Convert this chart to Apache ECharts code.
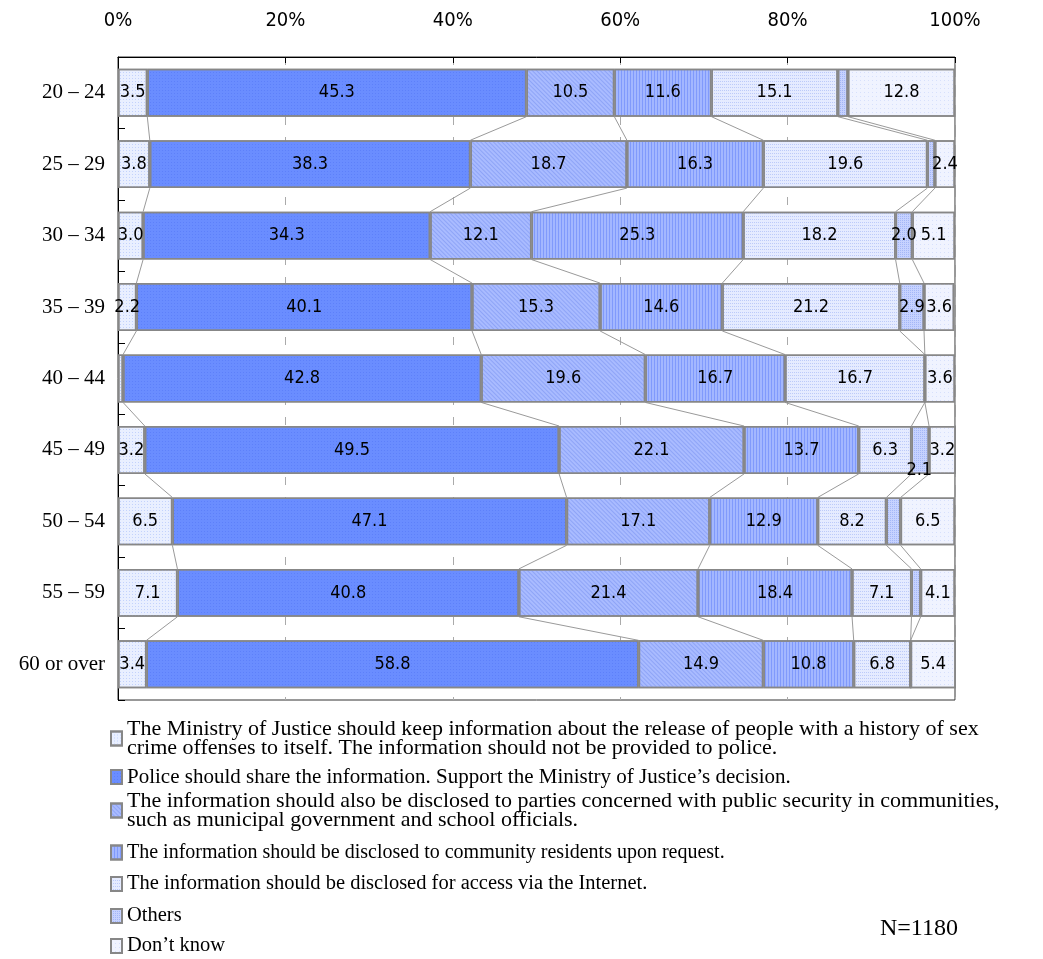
<!DOCTYPE html>
<html>
<head>
<meta charset="utf-8">
<script src="https://cdn.jsdelivr.net/npm/echarts@6/dist/echarts.min.js"></script>
<style>html,body{margin:0;padding:0;background:#fff}#c{width:1043px;height:959px}</style>
</head>
<body>
<div id="c"></div>
<script>
const categories = ['20 – 24','25 – 29','30 – 34','35 – 39','40 – 44','45 – 49','50 – 54','55 – 59','60 or over'];
const xTicks = [0, 20, 40, 60, 80, 100];
const seriesNames = [
  'The Ministry of Justice should keep information about the release of people with a history of sex\ncrime offenses to itself. The information should not be provided to police.',
  'Police should share the information. Support the Ministry of Justice\u2019s decision.',
  'The information should also be disclosed to parties concerned with public security in communities,\nsuch as municipal government and school officials.',
  'The information should be disclosed to community residents upon request.',
  'The information should be disclosed for access via the Internet.',
  'Others',
  'Don\u2019t know'
];
const keepToItself = [3.5, 3.8, 3.0, 2.2, 0.6, 3.2, 6.5, 7.1, 3.4];
const policeShare  = [45.3, 38.3, 34.3, 40.1, 42.8, 49.5, 47.1, 40.8, 58.8];
const partiesDisclose = [10.5, 18.7, 12.1, 15.3, 19.6, 22.1, 17.1, 21.4, 14.9];
const residentsRequest = [11.6, 16.3, 25.3, 14.6, 16.7, 13.7, 12.9, 18.4, 10.8];
const internetAccess = [15.1, 19.6, 18.2, 21.2, 16.7, 6.3, 8.2, 7.1, 6.8];
const others = [1.2, 0.9, 2.0, 2.9, 0.0, 2.1, 1.7, 1.1, 0.0];
const dontKnow = [12.8, 2.4, 5.1, 3.6, 3.6, 3.2, 6.5, 4.1, 5.4];
const nLabel = 'N=1180';

const allSeries = [keepToItself, policeShare, partiesDisclose, residentsRequest, internetAccess, others, dontKnow];
const BAR_RATIO = 0.67;
const labelFont = "'DejaVu Sans Condensed','Liberation Sans',Arial,sans-serif";
const serifFont = "'Liberation Serif','Times New Roman',serif";

const styles = [
  {color:'#e9efff', decal:{symbol:'rect', symbolSize:1, color:'rgba(170,190,250,0.6)', dashArrayX:[1,2], dashArrayY:[1,2]}},
  {color:'#6a8dff', decal:{symbol:'rect', symbolSize:1, color:'rgba(80,115,245,0.5)', dashArrayX:[1,2], dashArrayY:[1,2]}},
  {color:'#a9bbff', decal:{symbol:'rect', symbolSize:1, color:'rgba(120,145,240,0.55)', dashArrayX:[1,0], dashArrayY:[1,2], rotation:Math.PI/4}},
  {color:'#a3b7ff', decal:{symbol:'rect', symbolSize:1, color:'rgba(105,135,250,0.6)', dashArrayX:[1,2], dashArrayY:[1,0]}},
  {color:'#e5ebff', decal:{symbol:'rect', symbolSize:1, color:'rgba(160,180,245,0.6)', dashArrayX:[1,1], dashArrayY:[1,2]}},
  {color:'#c6d2ff', decal:{symbol:'rect', symbolSize:1, color:'rgba(130,155,240,0.5)', dashArrayX:[1,1], dashArrayY:[1,1]}},
  {color:'#f0f3ff', decal:{symbol:'rect', symbolSize:1, color:'rgba(190,205,250,0.5)', dashArrayX:[1,3], dashArrayY:[1,3]}}
];

const barSeries = allSeries.map((vals, s) => ({
  name: seriesNames[s],
  type: 'bar',
  stack: 'total',
  barWidth: (BAR_RATIO*100) + '%',
  z: 3,
  itemStyle: {color: styles[s].color, decal: styles[s].decal, borderColor:'#878787', borderWidth:1.5},
  label: {
    show: true,
    position: 'inside',
    color: '#000',
    fontFamily: labelFont,
    fontSize: 18,
    formatter: p => (p.value >= 2 ? p.value.toFixed(1) : '')
  },
  data: vals.map((v, i) => {
    // the small "2.1" in 45-49 sits below its thin segment
    if (s === 5 && i === 5) return {value: v, label: {offset:[-1, 20]}};
    return v;
  })
}));

const connectorSeries = {
  type: 'custom',
  silent: true,
  z: 2,
  data: categories.map((c, i) => [0, i]),
  renderItem: function (params, api) {
    const i = api.value(1);
    if (i >= categories.length - 1) return null;
    const half = api.size([0, 1])[1] * BAR_RATIO / 2;
    let c1 = 0, c2 = 0;
    const children = [];
    for (let k = 0; k < allSeries.length - 1; k++) {
      c1 += allSeries[k][i];
      c2 += allSeries[k][i + 1];
      const p1 = api.coord([c1, i]);
      const p2 = api.coord([c2, i + 1]);
      children.push({type:'line', shape:{x1:p1[0], y1:p1[1] + half, x2:p2[0], y2:p2[1] - half}, style:{stroke:'#9a9a9a', lineWidth:1}});
    }
    return {type:'group', children};
  }
};

// one legend block per entry so each sits where the reference has it
const legendTops = [718, 766.5, 790, 842.5, 873.5, 905.5, 935.5];
const legendSizes = [22, 21, 22, 20, 20.5, 20.5, 20.5];
const legends = seriesNames.map((n, s) => ({
  orient: 'vertical', left: 110, top: legendTops[s], padding: 0,
  itemWidth: 11, itemHeight: 14, icon: 'rect',
  textStyle: {color:'#000', fontFamily:serifFont, fontSize:legendSizes[s], lineHeight:19},
  data: [n]
}));

const chart = echarts.init(document.getElementById('c'));
chart.setOption({
  animation: false,
  backgroundColor: '#fff',
  grid: {left:118, right:88, top:57, bottom:259, show:true, borderColor:'#333', borderWidth:1, backgroundColor:'transparent'},
  xAxis: {
    type: 'value', position: 'top', min: xTicks[0], max: xTicks[xTicks.length-1], interval: xTicks[1]-xTicks[0],
    axisLine: {show:true, lineStyle:{color:'#000', width:1}},
    axisTick: {show:true, inside:true, length:6, lineStyle:{color:'#000'}},
    axisLabel: {formatter:'{value}%', color:'#000', fontFamily:labelFont, fontSize:20, margin:26},
    splitLine: {show:true, lineStyle:{color:'#aaa', type:[8,12], width:1}}
  },
  yAxis: {
    type: 'category', inverse: true, data: categories,
    axisLine: {show:true, lineStyle:{color:'#000', width:1}},
    axisTick: {show:true, inside:true, length:7, lineStyle:{color:'#000'}},
    axisLabel: {color:'#000', fontFamily:serifFont, fontSize:21, margin:13}
  },
  legend: legends,
  graphic: [{type:'text', left:880, top:917, style:{text:nLabel, fill:'#000', font:'24px ' + serifFont}}],
  series: barSeries.concat([connectorSeries])
});
</script>
</body>
</html>
